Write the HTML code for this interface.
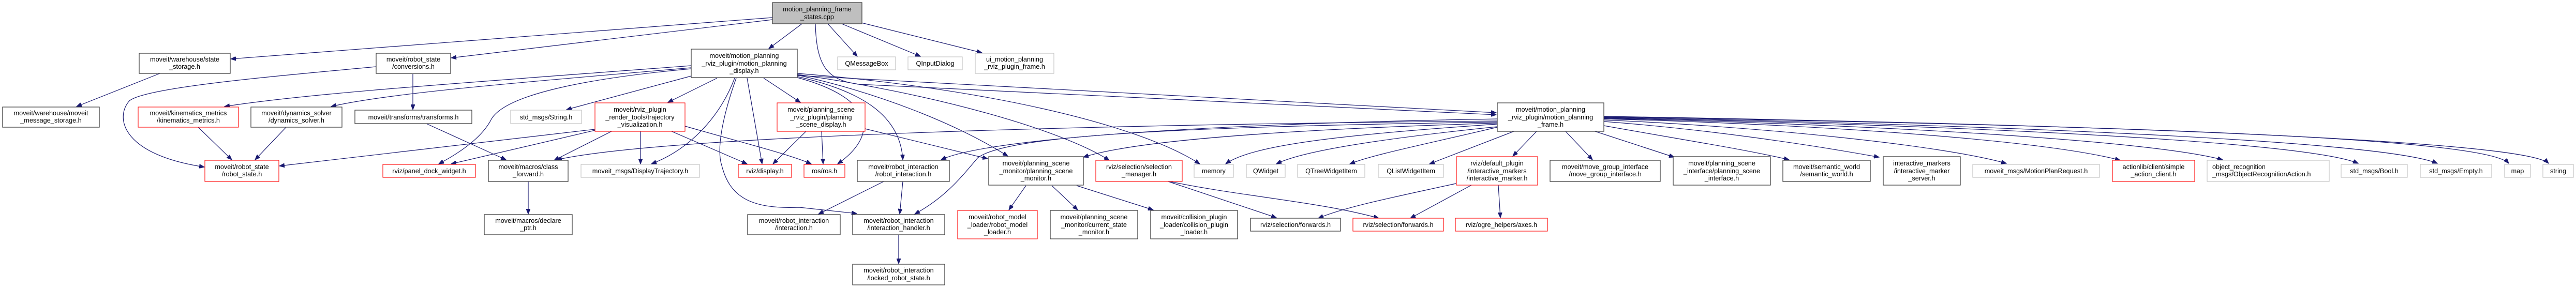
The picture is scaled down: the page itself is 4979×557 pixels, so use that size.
<!DOCTYPE html>
<html><head><meta charset="utf-8"><style>
html,body{margin:0;padding:0;background:#fff;}
svg{display:block;}
text{font-family:"Liberation Sans",sans-serif;font-size:12.7px;fill:#000;text-anchor:middle;}
.e{fill:none;stroke:#191970;stroke-width:1.2;marker-end:url(#a);}
.b{fill:#fff;stroke:#404040;stroke-width:1.3;}
.r{fill:#fff;stroke:#ff0000;stroke-width:1.1;}
.g{fill:#fff;stroke:#bfbfbf;stroke-width:1.1;}
.c{fill:#bfbfbf;stroke:#404040;stroke-width:1.3;}
</style></head><body>
<svg width="4979" height="557" viewBox="0 0 4979 557" xmlns="http://www.w3.org/2000/svg">
<defs><marker id="a" markerUnits="userSpaceOnUse" markerWidth="11" markerHeight="8" refX="10" refY="4" orient="auto"><path d="M0,0 L10,4 L0,8 z" fill="#191970" stroke="#191970"/></marker></defs>

<!-- edges -->
<path class="e" d="M1493,34 L446,114"/>
<path class="e" d="M1493,38 L872,112"/>
<path class="e" d="M1550,46 L1486,94"/>
<path class="e" d="M1600,46 L1657,109"/>
<path class="e" d="M1627,46 L1779,109"/>
<path class="e" d="M1665,44 L1898,102"/>
<path class="e" d="M1576,46 C1578,130 1600,155 1660,163 L2892,222"/>
<path class="e" d="M1541,146 L2892,218"/>
<path class="e" d="M1336,127 C900,160 600,180 434,206"/>
<path class="e" d="M1336,131 C1000,160 750,180 640,206"/>
<path class="e" d="M727,129 C500,150 280,170 250,195 C220,230 240,300 395,323"/>
<path class="e" d="M798,143 L798,212"/>
<path class="e" d="M826,240 L978,309"/>
<path class="e" d="M1336,133 C1150,150 980,180 950,230 C930,270 880,300 848,317"/>
<path class="e" d="M1336,147 L1095,212"/>
<path class="e" d="M1386,151 L1291,198"/>
<path class="e" d="M1420,151 C1390,230 1330,290 1259,317"/>
<path class="e" d="M1444,151 L1473,317"/>
<path class="e" d="M1423,151 C1395,230 1385,290 1395,320 C1410,380 1450,405 1545,401 L1656,413"/>
<path class="e" d="M1476,151 L1547,198"/>
<path class="e" d="M1541,150 C1690,190 1700,260 1619,317"/>
<path class="e" d="M1541,148 C1660,175 1740,220 1745,309"/>
<path class="e" d="M1541,145 C1700,180 1850,240 1948,302"/>
<path class="e" d="M1541,144 C1800,180 2050,250 2144,310"/>
<path class="e" d="M1541,142 C1900,170 2200,240 2319,317"/>
<path class="e" d="M1150,252 L872,317"/>
<path class="e" d="M1150,250 L540,321"/>
<path class="e" d="M1182,254 L1071,310"/>
<path class="e" d="M1238,254 L1238,317"/>
<path class="e" d="M1298,254 L1444,317"/>
<path class="e" d="M1324,244 C1450,280 1530,300 1568,317"/>
<path class="e" d="M1558,254 L1494,317"/>
<path class="e" d="M1588,254 L1591,317"/>
<path class="e" d="M1672,249 L1909,307"/>
<path class="e" d="M2894,234 C2200,240 1300,260 1076,309"/>
<path class="e" d="M2894,230 C2300,240 1900,270 1819,309"/>
<path class="e" d="M2894,238 C2500,250 2200,270 2094,304"/>
<path class="e" d="M2894,236 C2300,245 1950,260 1890,305 C1860,340 1830,380 1768,414"/>
<path class="e" d="M2894,240 C2600,260 2420,280 2369,317"/>
<path class="e" d="M2894,245 C2700,265 2520,290 2467,317"/>
<path class="e" d="M2894,246 C2750,280 2650,300 2609,317"/>
<path class="e" d="M2926,254 L2763,317"/>
<path class="e" d="M2970,254 L2924,302"/>
<path class="e" d="M3026,254 L3078,309"/>
<path class="e" d="M3083,254 L3236,304"/>
<path class="e" d="M3100,243 C3250,270 3380,290 3458,309"/>
<path class="e" d="M3100,235 C3300,250 3500,280 3632,304"/>
<path class="e" d="M3100,232 C3400,245 3750,280 3878,316"/>
<path class="e" d="M3100,230 C3500,240 3950,270 4098,310"/>
<path class="e" d="M3100,229 C3600,240 4150,270 4296,309"/>
<path class="e" d="M3100,228 C3700,240 4450,270 4558,316"/>
<path class="e" d="M3100,227 C3800,240 4600,270 4711,316"/>
<path class="e" d="M3100,226 C3900,240 4800,260 4849,316"/>
<path class="e" d="M3100,225 C4000,240 4880,270 4926,316"/>
<path class="e" d="M1708,351 L1582,414"/>
<path class="e" d="M1745,351 L1739,414"/>
<path class="e" d="M1737,455 L1737,510"/>
<path class="e" d="M1021,351 L1021,414"/>
<path class="e" d="M1983,359 L1950,406"/>
<path class="e" d="M2033,359 L2083,406"/>
<path class="e" d="M2081,359 L2229,406"/>
<path class="e" d="M2258,351 L2467,421"/>
<path class="e" d="M2261,351 C2400,380 2550,390 2665,422"/>
<path class="e" d="M2814,355 C2700,380 2600,400 2548,422"/>
<path class="e" d="M2844,358 L2726,422"/>
<path class="e" d="M2896,358 L2900,421"/>
<path class="e" d="M553,246 L493,309"/>
<path class="e" d="M383,246 L448,309"/>
<path class="e" d="M309,142 L148,206"/>

<!-- nodes -->
<rect class="c" x="1493" y="5" width="173" height="41"/><text x="1579.5" y="22">motion_planning_frame</text><text x="1579.5" y="37">_states.cpp</text>
<rect class="b" x="269" y="103" width="176" height="39"/><text x="357" y="119">moveit/warehouse/state</text><text x="357" y="133">_storage.h</text>
<rect class="b" x="5" y="207" width="187" height="39"/><text x="98.5" y="223">moveit/warehouse/moveit</text><text x="98.5" y="237">_message_storage.h</text>
<rect class="r" x="267" y="207" width="194" height="39"/><text x="364" y="223">moveit/kinematics_metrics</text><text x="364" y="237">/kinematics_metrics.h</text>
<rect class="b" x="485" y="207" width="176" height="39"/><text x="573" y="223">moveit/dynamics_solver</text><text x="573" y="237">/dynamics_solver.h</text>
<rect class="r" x="396" y="310" width="143" height="41"/><text x="467.5" y="327">moveit/robot_state</text><text x="467.5" y="341">/robot_state.h</text>
<rect class="b" x="727" y="103" width="144" height="39"/><text x="799" y="119">moveit/robot_state</text><text x="799" y="133">/conversions.h</text>
<rect class="b" x="686" y="213" width="226" height="26"/><text x="799" y="231">moveit/transforms/transforms.h</text>
<rect class="r" x="740" y="318" width="179" height="25"/><text x="829.5" y="335">rviz/panel_dock_widget.h</text>
<rect class="b" x="1336" y="95" width="205" height="55"/><text x="1438.5" y="112">moveit/motion_planning</text><text x="1438.5" y="127">_rviz_plugin/motion_planning</text><text x="1438.5" y="141">_display.h</text>
<rect class="g" x="987" y="213" width="137" height="26"/><text x="1055.5" y="231">std_msgs/String.h</text>
<rect class="r" x="1150" y="199" width="174" height="55"/><text x="1237" y="216">moveit/rviz_plugin</text><text x="1237" y="231">_render_tools/trajectory</text><text x="1237" y="245">_visualization.h</text>
<rect class="r" x="1502" y="199" width="170" height="55"/><text x="1587" y="216">moveit/planning_scene</text><text x="1587" y="231">_rviz_plugin/planning</text><text x="1587" y="245">_scene_display.h</text>
<rect class="g" x="1619" y="110" width="112" height="25"/><text x="1675" y="127">QMessageBox</text>
<rect class="b" x="944" y="310" width="154" height="41"/><text x="1021" y="327">moveit/macros/class</text><text x="1021" y="341">_forward.h</text>
<rect class="g" x="1123" y="318" width="229" height="25"/><text x="1237.5" y="335">moveit_msgs/DisplayTrajectory.h</text>
<rect class="r" x="1427" y="318" width="103" height="25"/><text x="1478.5" y="335">rviz/display.h</text>
<rect class="r" x="1554" y="318" width="79" height="25"/><text x="1593.5" y="335">ros/ros.h</text>
<rect class="b" x="936" y="415" width="170" height="39"/><text x="1021" y="431">moveit/macros/declare</text><text x="1021" y="445">_ptr.h</text>
<rect class="b" x="1445" y="415" width="179" height="39"/><text x="1534.5" y="431">moveit/robot_interaction</text><text x="1534.5" y="445">/interaction.h</text>
<rect class="g" x="1755" y="110" width="105" height="25"/><text x="1807.5" y="127">QInputDialog</text>
<rect class="g" x="1885" y="103" width="152" height="39"/><text x="1961" y="119">ui_motion_planning</text><text x="1961" y="133">_rviz_plugin_frame.h</text>
<rect class="b" x="1657" y="310" width="178" height="41"/><text x="1746" y="327">moveit/robot_interaction</text><text x="1746" y="341">/robot_interaction.h</text>
<rect class="b" x="1648" y="415" width="178" height="39"/><text x="1737" y="431">moveit/robot_interaction</text><text x="1737" y="445">/interaction_handler.h</text>
<rect class="b" x="1648" y="511" width="178" height="40"/><text x="1737" y="527">moveit/robot_interaction</text><text x="1737" y="542">/locked_robot_state.h</text>
<rect class="b" x="1911" y="303" width="183" height="55"/><text x="2002.5" y="320">moveit/planning_scene</text><text x="2002.5" y="335">_monitor/planning_scene</text><text x="2002.5" y="349">_monitor.h</text>
<rect class="r" x="2118" y="310" width="167" height="41"/><text x="2201.5" y="327">rviz/selection/selection</text><text x="2201.5" y="341">_manager.h</text>
<rect class="g" x="2308" y="318" width="76" height="25"/><text x="2346" y="335">memory</text>
<rect class="g" x="2409" y="318" width="75" height="25"/><text x="2446.5" y="335">QWidget</text>
<rect class="r" x="1851" y="407" width="154" height="55"/><text x="1928" y="424">moveit/robot_model</text><text x="1928" y="439">_loader/robot_model</text><text x="1928" y="453">_loader.h</text>
<rect class="b" x="2030" y="407" width="169" height="55"/><text x="2114.5" y="424">moveit/planning_scene</text><text x="2114.5" y="439">_monitor/current_state</text><text x="2114.5" y="453">_monitor.h</text>
<rect class="b" x="2224" y="407" width="168" height="55"/><text x="2308" y="424">moveit/collision_plugin</text><text x="2308" y="439">_loader/collision_plugin</text><text x="2308" y="453">_loader.h</text>
<rect class="b" x="2417" y="422" width="174" height="25"/><text x="2504" y="439">rviz/selection/forwards.h</text>
<rect class="b" x="2894" y="199" width="206" height="55"/><text x="2997" y="216">moveit/motion_planning</text><text x="2997" y="231">_rviz_plugin/motion_planning</text><text x="2997" y="245">_frame.h</text>
<rect class="g" x="2508" y="318" width="130" height="25"/><text x="2573" y="335">QTreeWidgetItem</text>
<rect class="g" x="2664" y="318" width="126" height="25"/><text x="2727" y="335">QListWidgetItem</text>
<rect class="r" x="2815" y="303" width="157" height="55"/><text x="2893.5" y="320">rviz/default_plugin</text><text x="2893.5" y="335">/interactive_markers</text><text x="2893.5" y="349">/interactive_marker.h</text>
<rect class="b" x="2996" y="310" width="213" height="41"/><text x="3102.5" y="327">moveit/move_group_interface</text><text x="3102.5" y="341">/move_group_interface.h</text>
<rect class="b" x="3234" y="303" width="188" height="55"/><text x="3328" y="320">moveit/planning_scene</text><text x="3328" y="335">_interface/planning_scene</text><text x="3328" y="349">_interface.h</text>
<rect class="r" x="2615" y="422" width="175" height="25"/><text x="2702.5" y="439">rviz/selection/forwards.h</text>
<rect class="r" x="2813" y="422" width="178" height="25"/><text x="2902" y="439">rviz/ogre_helpers/axes.h</text>
<rect class="b" x="3446" y="310" width="169" height="41"/><text x="3530.5" y="327">moveit/semantic_world</text><text x="3530.5" y="341">/semantic_world.h</text>
<rect class="b" x="3640" y="303" width="149" height="55"/><text x="3714.5" y="320">interactive_markers</text><text x="3714.5" y="335">/interactive_marker</text><text x="3714.5" y="349">_server.h</text>
<rect class="g" x="3813" y="318" width="245" height="25"/><text x="3935.5" y="335">moveit_msgs/MotionPlanRequest.h</text>
<rect class="r" x="4083" y="310" width="159" height="41"/><text x="4162.5" y="327">actionlib/client/simple</text><text x="4162.5" y="341">_action_client.h</text>
<rect class="g" x="4266" y="310" width="236" height="41"/><text x="4276" y="327" style="text-anchor:start">object_recognition</text><text x="4276" y="341" style="text-anchor:start">_msgs/ObjectRecognitionAction.h</text>
<rect class="g" x="4525" y="318" width="128" height="25"/><text x="4589" y="335">std_msgs/Bool.h</text>
<rect class="g" x="4678" y="318" width="138" height="25"/><text x="4747" y="335">std_msgs/Empty.h</text>
<rect class="g" x="4841" y="318" width="50" height="25"/><text x="4866" y="335">map</text>
<rect class="g" x="4915" y="318" width="59" height="25"/><text x="4944.5" y="335">string</text>
</svg>
</body></html>
